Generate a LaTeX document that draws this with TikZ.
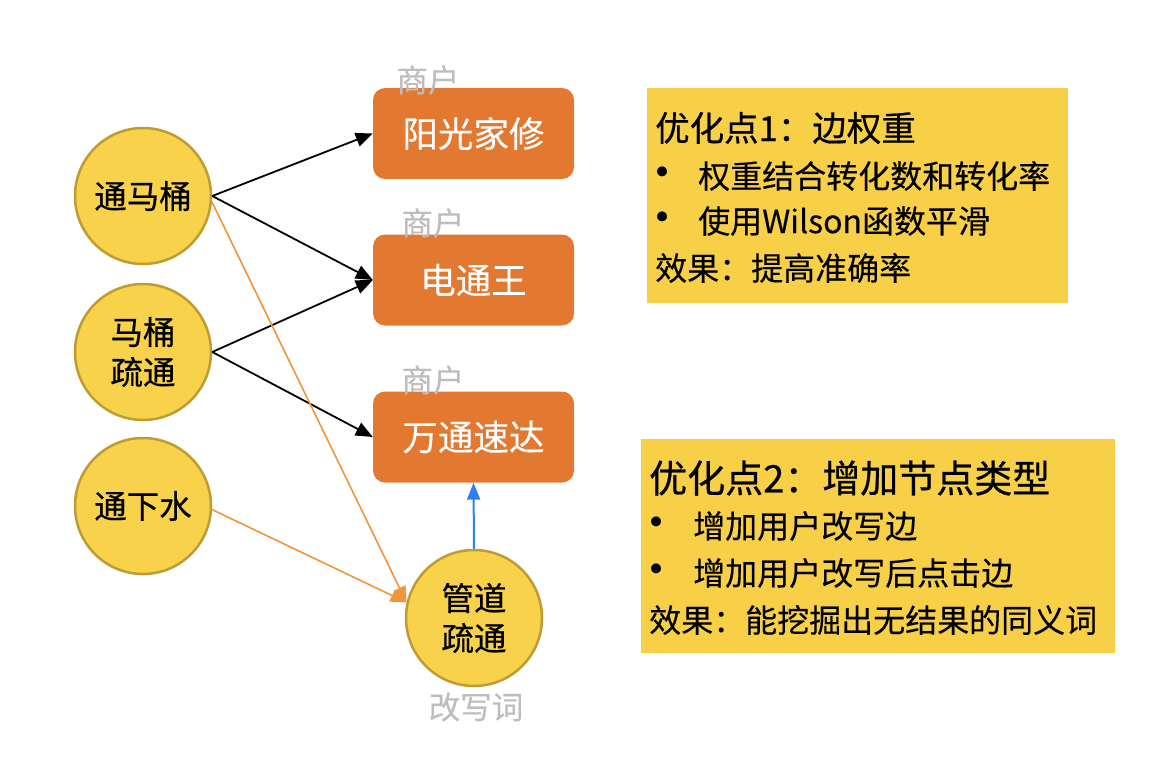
\documentclass[tikz,border=0pt]{standalone}
\usepackage{fontspec}
\setmainfont{Noto Sans CJK SC}
\newfontfamily\medfont[FakeBold=0.6]{Noto Sans CJK SC}
\newfontfamily\regfont[FakeBold=0.25]{Noto Sans CJK SC}
\newfontfamily\bulfont{DejaVu Sans}
\usetikzlibrary{arrows.meta}
\definecolor{cfill}{HTML}{F8D24A}
\definecolor{cborder}{HTML}{BE9C33}
\definecolor{corange}{HTML}{E37831}
\definecolor{cline}{HTML}{F0953A}
\definecolor{cblue}{HTML}{2F80F2}
\definecolor{cgray}{HTML}{BDBDBD}
\definecolor{cpanel}{HTML}{F8D048}
\tikzset{
  circ/.style={circle, minimum size=136pt, inner sep=0pt, draw=cborder, line width=2.5pt, fill=cfill, align=center, font=\medfont\fontsize{32.5}{40}\selectfont},
  shop/.style={rectangle, rounded corners=12pt, minimum width=201pt, minimum height=91pt, fill=corange, text=white, inner sep=0pt, font=\regfont\fontsize{35.5}{40}\selectfont},
  lbl/.style={text=cgray, inner sep=0pt, font=\regfont\fontsize{31.5}{36}\selectfont},
  panel/.style={rectangle, fill=cpanel, inner sep=0pt},
  ptitle/.style={anchor=west, inner sep=0pt, font=\medfont\fontsize{34.5}{40}\selectfont},
  ptext/.style={anchor=west, inner sep=0pt, font=\regfont\fontsize{32}{38}\selectfont},
  pbul/.style={inner sep=0pt, font=\bulfont\fontsize{34}{40}\selectfont},
  blk/.style={draw=black, line width=1.8pt, -{Triangle[length=17pt,width=14pt]}},
  orn/.style={draw=cline, line width=1.6pt, -{Triangle[length=16pt,width=13pt]}},
  blu/.style={draw=cblue, line width=2pt, -{Triangle[length=17pt,width=13pt]}}
}
\begin{document}
\begin{tikzpicture}[x=1pt,y=-1pt]
\useasboundingbox (0,0) rectangle (1164,770);
% circles
\node[circ] (tong) at (143,196) {通马桶};
\node[circ] (mt) at (143,352) {马桶\\疏通};
\node[circ] (xs) at (143,506) {通下水};
\node[circ] (guan) at (474,618) {管道\\疏通};
% shops
\node[shop] (b1) at (473.5,133.5) {阳光家修};
\node[shop] (b2) at (473.5,280) {电通王};
\node[shop] (b3) at (473.5,437) {万通速达};
% gray labels
\node[lbl] (l1) at (428,80) {商户};
\node[lbl] (l2) at (433,223) {商户};
\node[lbl] (l3) at (433,380) {商户};
\node[lbl] (l4) at (476,707) {改写词};
% arrows
\draw[blk] (tong.east) -- (b1.west);
\draw[blk] (tong.east) -- (b2.west);
\draw[blk] (mt.east) -- (b2.west);
\draw[blk] (mt.east) -- (b3.west);
\draw[orn] (tong.-5) -- (guan.167);
\draw[orn] (xs.-3) -- (guan.167);
\draw[blu] (guan.north) -- (b3.south);
% panel 1
\node[panel, minimum width=421pt, minimum height=215pt] (p1) at (857.5,195.5) {};
\node[ptitle] (p1t) at (655,128) {优化点1：边权重};
\node[pbul] (p1b1) at (663,176) {•};
\node[ptext] (p1a) at (698,176) {权重结合转化数和转化率};
\node[pbul] (p1b2) at (663,221) {•};
\node[ptext] (p1c) at (698,221) {使用Wilson函数平滑};
\node[ptext] (p1d) at (655,268) {效果：提高准确率};
% panel 2
\node[panel, minimum width=474pt, minimum height=214pt] (p2) at (878,546) {};
\node[ptitle, font=\medfont\fontsize{38}{42}\selectfont] (p2t) at (649,478) {优化点2：增加节点类型};
\node[pbul] (p2b1) at (657,526) {•};
\node[ptext] (p2a) at (693,526) {增加用户改写边};
\node[pbul] (p2b2) at (657,573) {•};
\node[ptext] (p2c) at (693,573) {增加用户改写后点击边};
\node[ptext] (p2d) at (649,620) {效果：能挖掘出无结果的同义词};
\end{tikzpicture}
\end{document}
